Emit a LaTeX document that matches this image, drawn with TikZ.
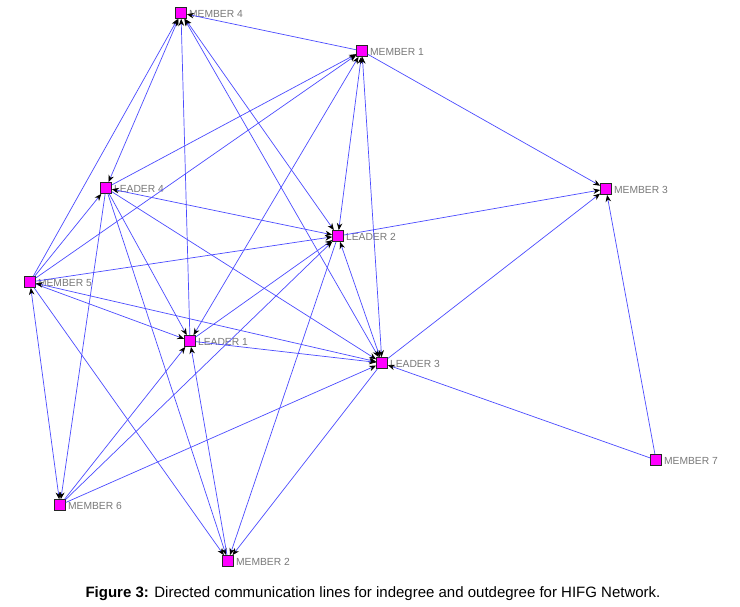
\documentclass[tikz,border=0pt]{standalone}
\usepackage{fontspec}
\setmainfont{Liberation Sans}
\usetikzlibrary{arrows.meta}
\definecolor{edgeblue}{RGB}{75,75,255}
\definecolor{lblgray}{RGB}{120,120,120}
\definecolor{nodemag}{RGB}{255,0,255}
\tikzset{
  agent/.style={draw=black!85, fill=nodemag, minimum size=11pt, inner sep=0pt, line width=0.7pt},
  lbl/.style={text=lblgray, font=\fontsize{10.3}{11}\selectfont, anchor=west, inner sep=0pt},
  tipA/.tip={Stealth[length=7pt,width=5.5pt,color=black]},
  link/.style={draw=edgeblue, line width=0.7pt, -tipA},
  blink/.style={draw=edgeblue, line width=0.7pt, tipA-tipA},
}
\begin{document}
\begin{tikzpicture}[x=1pt,y=-1pt]
\useasboundingbox (0,0) rectangle (740,606);
% nodes
\node[agent] (m4) at (181,13) {};
\node[agent] (m1) at (362,51) {};
\node[agent] (l4) at (106,188) {};
\node[agent] (l2) at (338,236) {};
\node[agent] (m3) at (606,189) {};
\node[agent] (m5) at (30,282) {};
\node[agent] (l1) at (190,341) {};
\node[agent] (l3) at (382,363) {};
\node[agent] (m7) at (656,460) {};
\node[agent] (m6) at (60,505) {};
\node[agent] (m2) at (228,561) {};
% labels
\node[lbl] (m4l) at ([xshift=2pt,yshift=-1pt]m4.east) {MEMBER 4};
\node[lbl] (m1l) at ([xshift=2pt,yshift=-1pt]m1.east) {MEMBER 1};
\node[lbl] (l4l) at ([xshift=2pt,yshift=-1pt]l4.east) {LEADER 4};
\node[lbl] (l2l) at ([xshift=2pt,yshift=-1pt]l2.east) {LEADER 2};
\node[lbl] (m3l) at ([xshift=2pt,yshift=-1pt]m3.east) {MEMBER 3};
\node[lbl] (m5l) at ([xshift=2pt,yshift=-1pt]m5.east) {MEMBER 5};
\node[lbl] (l1l) at ([xshift=2pt,yshift=-1pt]l1.east) {LEADER 1};
\node[lbl] (l3l) at ([xshift=2pt,yshift=-1pt]l3.east) {LEADER 3};
\node[lbl] (m7l) at ([xshift=2pt,yshift=-1pt]m7.east) {MEMBER 7};
\node[lbl] (m6l) at ([xshift=2pt,yshift=-1pt]m6.east) {MEMBER 6};
\node[lbl] (m2l) at ([xshift=2pt,yshift=-1pt]m2.east) {MEMBER 2};
% edges
\draw[link] (m1) -- (m4);
\draw[blink] (l4) -- (m4);
\draw[link] (m5) -- (m4);
\draw[link] (l1) -- (m4);
\draw[blink] (l2) -- (m4);
\draw[blink] (l3) -- (m4);
\draw[link] (l4) -- (m1);
\draw[link] (m5) -- (m1);
\draw[blink] (l1) -- (m1);
\draw[blink] (l2) -- (m1);
\draw[blink] (l3) -- (m1);
\draw[link] (m1) -- (m3);
\draw[link] (l2) -- (m3);
\draw[link] (l3) -- (m3);
\draw[link] (m7) -- (m3);
\draw[link] (m7) -- (l3);
\draw[link] (m5) -- (l4);
\draw[blink] (l4) -- (l2);
\draw[link] (l4) -- (l1);
\draw[link] (l4) -- (l3);
\draw[link] (l4) -- (m6);
\draw[link] (l4) -- (m2);
\draw[link] (m5) -- (l2);
\draw[link] (m5) -- (l1);
\draw[blink] (m5) -- (l3);
\draw[blink] (m5) -- (m6);
\draw[link] (m5) -- (m2);
\draw[link] (l1) -- (l2);
\draw[link] (l1) -- (l3);
\draw[link] (m6) -- (l1);
\draw[link] (m2) -- (l1);
\draw[link] (m6) -- (l2);
\draw[link] (l2) -- (m2);
\draw[blink] (l2) -- (l3);
\draw[link] (m6) -- (l3);
\draw[link] (l3) -- (m2);
% caption
\node (cap) at (373,594) {\fontsize{15}{17}\selectfont\textbf{Figure 3:} Directed communication lines for indegree and outdegree for HIFG Network.};
\end{tikzpicture}
\end{document}
